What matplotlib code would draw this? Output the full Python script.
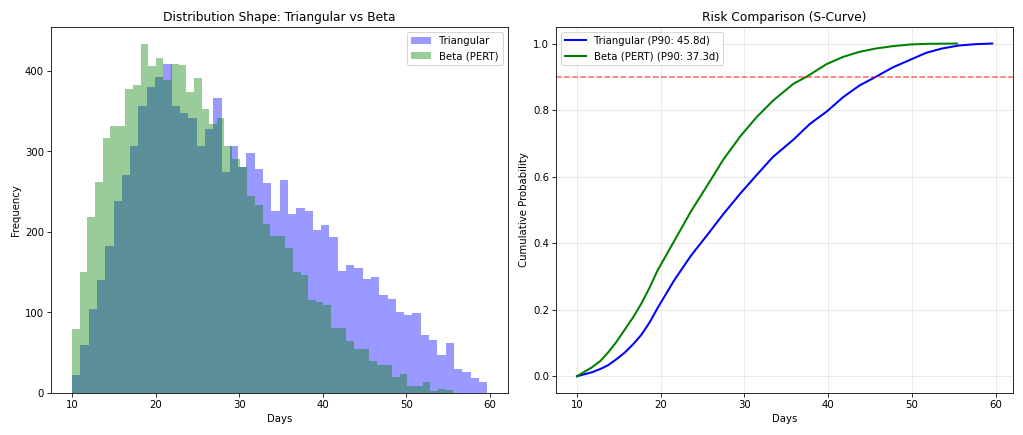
import numpy as np
import matplotlib
matplotlib.use("Agg")
from matplotlib import pyplot as plt

# histogram counts (50 bins each)
tri_range = (10.0, 59.7)
tri_counts = [22, 60, 104, 140, 182, 238, 271, 307, 356, 380,
              393, 408, 356, 348, 341, 307, 328, 366, 274, 307,
              280, 298, 278, 261, 226, 265, 222, 230, 226, 202,
              208, 194, 151, 159, 155, 142, 144, 122, 117, 101,
              97, 99, 72, 66, 47, 62, 30, 26, 19, 13]

beta_range = (10.0, 55.6)
beta_counts = [79, 150, 219, 262, 317, 332, 331, 378, 382, 433,
               406, 416, 389, 408, 407, 374, 391, 353, 334, 341,
               307, 291, 281, 244, 233, 210, 195, 195, 180, 150,
               146, 115, 113, 109, 81, 81, 64, 55, 55, 39,
               34, 34, 20, 24, 9, 9, 13, 2, 5, 4]

# S-curve points
tri_days = [10.0, 11.8, 12.8, 13.7, 14.7, 15.7, 16.7, 17.7, 18.7, 19.6,
            21.6, 23.6, 25.6, 27.5, 29.5, 31.5, 33.4, 35.85, 37.8, 39.8,
            41.8, 43.75, 45.7, 47.7, 49.7, 51.7, 53.6, 55.6, 57.6, 59.6]
tri_cdf = [0.0, 0.012, 0.022, 0.033, 0.051, 0.071, 0.096, 0.125, 0.163, 0.204,
           0.288, 0.362, 0.426, 0.488, 0.549, 0.606, 0.659, 0.711, 0.758, 0.795,
           0.839, 0.874, 0.900, 0.928, 0.950, 0.972, 0.985, 0.994, 0.998, 1.0]

beta_days = [10.0, 11.8, 12.8, 13.7, 14.7, 15.7, 16.7, 17.7, 18.7, 19.6,
             21.6, 23.6, 25.6, 27.5, 29.5, 31.5, 33.4, 35.85, 37.4, 39.8,
             41.8, 43.75, 45.7, 47.7, 49.7, 51.7, 55.4]
beta_cdf = [0.0, 0.027, 0.046, 0.071, 0.103, 0.140, 0.177, 0.219, 0.268, 0.317,
            0.406, 0.495, 0.575, 0.652, 0.721, 0.780, 0.828, 0.879, 0.900, 0.938,
            0.960, 0.975, 0.985, 0.992, 0.997, 0.999, 1.0]

tri_p90 = 45.8
beta_p90 = 37.3

fig, (ax1, ax2) = plt.subplots(1, 2, figsize=(14, 5.95), dpi=73.14)

# left: histograms
tri_edges = np.linspace(tri_range[0], tri_range[1], len(tri_counts) + 1)
beta_edges = np.linspace(beta_range[0], beta_range[1], len(beta_counts) + 1)
ax1.hist(tri_edges[:-1], bins=tri_edges, weights=tri_counts, alpha=0.4,
         color='blue', label='Triangular')
ax1.hist(beta_edges[:-1], bins=beta_edges, weights=beta_counts, alpha=0.4,
         color='green', label='Beta (PERT)')
ax1.set_title('Distribution Shape: Triangular vs Beta')
ax1.set_xlabel('Days')
ax1.set_ylabel('Frequency')
ax1.legend()

# right: cumulative curves
ax2.plot(tri_days, tri_cdf, color='blue', linewidth=2,
         label=f'Triangular (P90: {tri_p90}d)')
ax2.plot(beta_days, beta_cdf, color='green', linewidth=2,
         label=f'Beta (PERT) (P90: {beta_p90}d)')
ax2.axhline(0.9, color='red', linestyle='--', alpha=0.6)
ax2.set_title('Risk Comparison (S-Curve)')
ax2.set_xlabel('Days')
ax2.set_ylabel('Cumulative Probability')
ax2.legend(loc='upper left')
ax2.grid(True, alpha=0.3)

plt.tight_layout()
plt.savefig('out.png', dpi=73.14)
